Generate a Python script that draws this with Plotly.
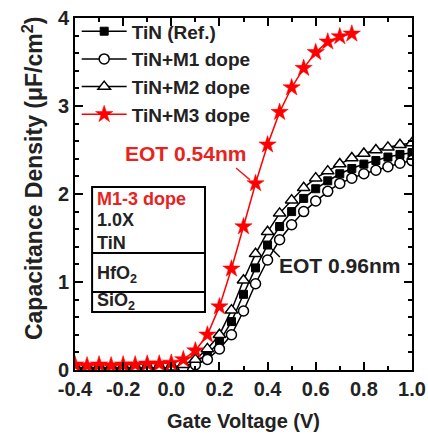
import plotly.graph_objects as go

# Gate voltage (V)
volts = [-0.40, -0.35, -0.30, -0.25, -0.20, -0.15, -0.10, -0.05, 0.00,
         0.05, 0.10, 0.15, 0.20, 0.25, 0.30, 0.35, 0.40, 0.45, 0.50,
         0.55, 0.60, 0.65, 0.70, 0.75, 0.80, 0.85, 0.90, 0.95, 1.00]

# Capacitance density (uF/cm^2)
cap_ref = [0.02, 0.02, 0.02, 0.02, 0.02, 0.02, 0.02, 0.02, 0.03,
           0.04, 0.09, 0.18, 0.32, 0.55, 0.86, 1.16, 1.42, 1.63, 1.80,
           1.95, 2.06, 2.15, 2.23, 2.29, 2.34, 2.38, 2.42, 2.45, 2.47]
cap_m1 = [0.02, 0.02, 0.02, 0.02, 0.02, 0.02, 0.02, 0.02, 0.02,
          0.03, 0.06, 0.12, 0.24, 0.40, 0.67, 0.98, 1.25, 1.48, 1.65,
          1.80, 1.92, 2.03, 2.12, 2.18, 2.23, 2.27, 2.31, 2.35, 2.38]
cap_m2 = [0.02, 0.02, 0.02, 0.02, 0.02, 0.02, 0.02, 0.02, 0.03,
          0.06, 0.12, 0.24, 0.40, 0.68, 1.02, 1.32, 1.57, 1.78, 1.93,
          2.07, 2.18, 2.26, 2.34, 2.41, 2.46, 2.50, 2.53, 2.56, 2.58]
volts_m3 = [-0.40, -0.35, -0.30, -0.25, -0.20, -0.15, -0.10, -0.05, 0.00,
            0.05, 0.10, 0.15, 0.20, 0.25, 0.30, 0.35, 0.40, 0.45, 0.50,
            0.55, 0.60, 0.65, 0.70, 0.75]
cap_m3 = [0.06, 0.05, 0.06, 0.05, 0.06, 0.06, 0.07, 0.07, 0.08,
          0.12, 0.22, 0.40, 0.72, 1.15, 1.63, 2.12, 2.56, 2.93, 3.21,
          3.43, 3.61, 3.73, 3.79, 3.82]

series_names = ["TiN (Ref.)", "TiN+M1 dope", "TiN+M2 dope", "TiN+M3 dope"]

x_tickvals = [-0.4, -0.2, 0.0, 0.2, 0.4, 0.6, 0.8, 1.0]
x_ticktext = ["-0.4", "-0.2", "0.0", "0.2", "0.4", "0.6", "0.8", "1.0"]
y_tickvals = [0, 1, 2, 3, 4]

FONT = "Arial, Liberation Sans, sans-serif"
INK = "#222"
RED = "#e8231e"

fig = go.Figure()
fig.add_trace(go.Scatter(x=volts, y=cap_ref, name=series_names[0], mode="lines+markers",
                         line=dict(color="black", width=1.5),
                         marker=dict(symbol="square", size=8, color="black",
                                     line=dict(color="black", width=1))))
fig.add_trace(go.Scatter(x=volts, y=cap_m1, name=series_names[1], mode="lines+markers",
                         line=dict(color="black", width=1.5),
                         marker=dict(symbol="circle", size=10, color="white",
                                     line=dict(color="black", width=1.5))))
fig.add_trace(go.Scatter(x=volts, y=cap_m2, name=series_names[2], mode="lines+markers",
                         line=dict(color="black", width=1.5),
                         marker=dict(symbol="triangle-up", size=11, color="white",
                                     line=dict(color="black", width=1.5))))
fig.add_trace(go.Scatter(x=volts_m3, y=cap_m3, name=series_names[3], mode="lines+markers",
                         line=dict(color="red", width=1.5),
                         marker=dict(symbol="star", size=13, color="red",
                                     line=dict(color="red", width=0.5))))

tickfont = dict(family=FONT, size=20, color=INK, weight="bold")
axis_common = dict(showline=True, linecolor="black", linewidth=2, mirror="ticks",
                   ticks="inside", tickcolor="black", tickwidth=1.5, ticklen=8,
                   showgrid=False, zeroline=False, tickfont=tickfont, automargin=False,
                   ticklabeloverflow="allow")

fig.update_xaxes(range=[-0.4, 1.0], tickvals=x_tickvals, ticktext=x_ticktext,
                 minor=dict(dtick=0.1, tick0=0, ticks="inside", ticklen=4,
                            tickcolor="black", tickwidth=1.5),
                 **axis_common)
fig.update_yaxes(range=[0, 4], tickvals=y_tickvals,
                 minor=dict(dtick=0.2, tick0=0, ticks="inside", ticklen=4,
                            tickcolor="black", tickwidth=1.5),
                 **axis_common)

TX = -0.318
annotations = [
    dict(text="<b>Capacitance Density (μF/cm<sup>2</sup>)</b>", xref="paper", yref="paper",
         x=-0.125, y=0.545, xanchor="center", yanchor="middle", textangle=-90,
         showarrow=False, font=dict(family=FONT, size=23, color=INK)),
    dict(text="<b>Gate Voltage (V)</b>", xref="paper", yref="paper",
         x=0.5, y=-0.145, xanchor="center", yanchor="middle",
         showarrow=False, font=dict(family=FONT, size=20, color=INK)),
    dict(text="<b>EOT 0.54nm</b>", x=0.057, y=2.46, xref="x", yref="y", showarrow=False,
         font=dict(family=FONT, size=21, color=RED)),
    dict(text="<b>EOT 0.96nm</b>", x=0.70, y=1.19, xref="x", yref="y", showarrow=False,
         font=dict(family=FONT, size=21, color=INK)),
    dict(text="<b>M1-3 dope</b>", x=TX, y=1.94, xref="x", yref="y", xanchor="left",
         showarrow=False, font=dict(family=FONT, size=18, color=RED)),
    dict(text="<b>1.0X</b>", x=TX, y=1.70, xref="x", yref="y", xanchor="left",
         showarrow=False, font=dict(family=FONT, size=18, color=INK)),
    dict(text="<b>TiN</b>", x=TX, y=1.44, xref="x", yref="y", xanchor="left",
         showarrow=False, font=dict(family=FONT, size=18, color=INK)),
    dict(text="<b>HfO<sub>2</sub></b>", x=TX, y=1.08, xref="x", yref="y", xanchor="left",
         showarrow=False, font=dict(family=FONT, size=18, color=INK)),
    dict(text="<b>SiO<sub>2</sub></b>", x=TX, y=0.78, xref="x", yref="y", xanchor="left",
         showarrow=False, font=dict(family=FONT, size=18, color=INK)),
]

shapes = [
    dict(type="rect", x0=-0.329, x1=0.14, y0=0.66, y1=2.08, xref="x", yref="y",
         line=dict(color="black", width=2), fillcolor="rgba(0,0,0,0)"),
    dict(type="line", x0=-0.329, x1=0.14, y0=1.33, y1=1.33, xref="x", yref="y",
         line=dict(color="black", width=2)),
    dict(type="line", x0=-0.329, x1=0.14, y0=0.886, y1=0.886, xref="x", yref="y",
         line=dict(color="black", width=2)),
    dict(type="line", x0=0.269, x1=0.327, y0=2.295, y1=2.16, xref="x", yref="y",
         line=dict(color=RED, width=1.5)),
    dict(type="line", x0=0.418, x1=0.451, y0=1.375, y1=1.284, xref="x", yref="y",
         line=dict(color="black", width=1.5)),
]

fig.update_layout(
    width=428, height=435,
    margin=dict(l=75, r=16, t=18, b=65, autoexpand=False),
    plot_bgcolor="white", paper_bgcolor="white",
    font=dict(family=FONT, size=20, color=INK),
    legend=dict(x=0.005, y=1.016, xanchor="left", yanchor="top",
                bgcolor="rgba(0,0,0,0)", borderwidth=0,
                font=dict(family=FONT, size=19, color=INK, weight="bold"),
                itemwidth=45, tracegroupgap=0),
    annotations=annotations,
    shapes=shapes,
)

# remove the default page margin so the 428x435 figure fills the window exactly
fig.write_html("out.html",
               config={"displayModeBar": False},
               post_script="document.body.style.margin='0';"
                           "document.documentElement.style.overflow='hidden';")
